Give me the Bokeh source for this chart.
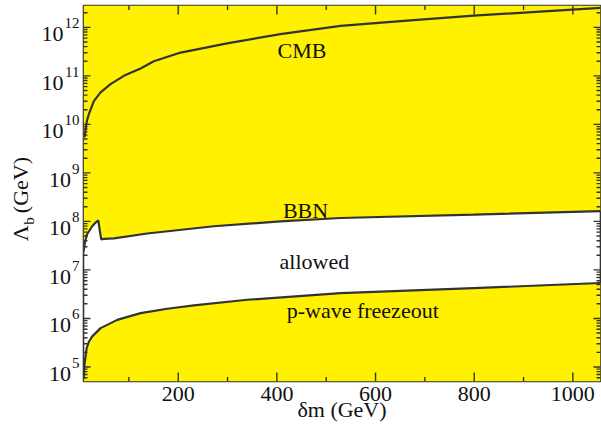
import math
from bokeh.plotting import figure
from bokeh.layouts import row
from bokeh.models import Range1d, FixedTicker, LogScale
from bokeh.core.properties import value
from bokeh.embed import file_html
from bokeh.resources import INLINE

# ---- data ----
# CMB bound: delta m (GeV), log10(Lambda_b / GeV)
cmb_x = [10.1, 14.8, 18.9, 29, 42.6, 62.8, 89.8, 123.7, 150.6, 205, 299, 407, 529, 664, 799, 1056]
cmb_logy = [9.73, 10.07, 10.21, 10.48, 10.66, 10.83, 11.0, 11.15, 11.30, 11.48, 11.67, 11.86, 12.03, 12.14, 12.24, 12.40]

# BBN bound
bbn_x = [8.4, 11, 15.6, 25.7, 33, 38, 41.2, 44, 49.3, 70, 137, 272, 407, 529, 799, 1056]
bbn_logy = [7.38, 7.58, 7.74, 7.90, 7.98, 8.02, 7.80, 7.63, 7.64, 7.65, 7.75, 7.90, 8.00, 8.07, 8.14, 8.21]

# p-wave freezeout bound
pw_x = [8.4, 10, 14.2, 18.9, 25.7, 42.6, 76.4, 123.7, 177.8, 231.7, 340, 529, 799, 1056]
pw_logy = [4.75, 5.05, 5.38, 5.52, 5.63, 5.80, 5.97, 6.11, 6.20, 6.27, 6.385, 6.52, 6.625, 6.73]

# region labels
lab_text = ["CMB", "BBN", "allowed", "p-wave freezeout"]
lab_x = [451, 458, 476, 574]
lab_logy = [11.394, 8.093, 7.05, 6.04]

# axes
x_min, x_max = 8, 1056
ylog_min, ylog_max = 4.7, 12.45
x_major = [200, 400, 600, 800, 1000]
x_minor = [100, 300, 500, 700, 900]
y_exponents = [5, 6, 7, 8, 9, 10, 11, 12]
x_title = "\u03b4m (GeV)"
y_title_parts = ["\u039b", "b", "(GeV)"]

cmb_y = [10 ** v for v in cmb_logy]
bbn_y = [10 ** v for v in bbn_logy]
pw_y = [10 ** v for v in pw_logy]
lab_y = [10 ** v for v in lab_logy]
y_min, y_max = 10 ** ylog_min, 10 ** ylog_max
y_major = [10.0 ** e for e in y_exponents]
y_minor = [m * 10.0 ** e for e in range(4, 13) for m in range(2, 10)
           if y_min < m * 10.0 ** e < y_max]
y_base_text = ["10"] * len(y_exponents)
y_exp_text = [str(e) for e in y_exponents]

YELLOW = "#fff100"
DARK = "#333333"
TXT = "#111111"
FONT = "Liberation Serif"
FS = "22px"
SHIFT_L, SHIFT_S = -6, -4    # baseline correction for 22px / 15px glyph texts

# ---- layout (pixels) ----
W, H = 601, 432
TW = 81                      # left strip: y tick labels + y title
B_LEFT, B_RIGHT = 2, 1       # frame spans x 83..600
B_TOP, B_BOT = 5, 51         # frame spans y 5..381
frame_w = W - TW - B_LEFT - B_RIGHT
frame_h = H - B_TOP - B_BOT
ppx = frame_w / (x_max - x_min)              # px per GeV
ppd = frame_h / (ylog_max - ylog_min)        # px per decade

y_range = Range1d(y_min, y_max)

# ---------- main plot ----------
p = figure(width=W - TW, height=H, x_range=Range1d(x_min, x_max), y_range=y_range,
           y_axis_type=None, output_backend="svg", toolbar_location=None,
           min_border_left=B_LEFT, min_border_right=B_RIGHT,
           min_border_top=B_TOP, min_border_bottom=B_BOT)
p.y_scale = LogScale()
p.grid.visible = False
p.outline_line_color = DARK
p.outline_line_width = 1.6
p.background_fill_color = "white"

# fills
p.varea(x=bbn_x, y1=bbn_y, y2=y_max, fill_color=YELLOW)
p.varea(x=pw_x, y1=y_min, y2=pw_y, fill_color=YELLOW)

# curves
for xs, ys in [(cmb_x, cmb_y), (bbn_x, bbn_y), (pw_x, pw_y)]:
    p.line(xs, ys, line_color=DARK, line_width=2.2)

p.text(x=lab_x, y=lab_y, text=lab_text, text_font=value(FONT), text_font_size=FS,
       text_align="center", text_baseline="alphabetic", y_offset=SHIFT_L, text_color=TXT)

# inward ticks on all four sides (tick lengths converted from pixels)
tx, ty = [], []
for xs_, L in [(x_major, 9), (x_minor, 4.5)]:
    f = 10 ** (L / ppd)
    for x in xs_:
        tx += [[x, x], [x, x]]
        ty += [[y_min, y_min * f], [y_max, y_max / f]]
for ys_, L in [(y_major, 7), (y_minor, 4)]:
    d = L / ppx
    for y in ys_:
        tx += [[x_min, x_min + d], [x_max, x_max - d]]
        ty += [[y, y], [y, y]]
p.multi_line(xs=tx, ys=ty, line_color=DARK, line_width=1.4)

xa = p.xaxis[0]
xa.ticker = FixedTicker(ticks=x_major, minor_ticks=[])
xa.axis_line_color = None
xa.major_tick_line_color = None
xa.minor_tick_line_color = None
xa.major_tick_in = 0
xa.major_tick_out = 0
xa.minor_tick_in = 0
xa.minor_tick_out = 0
xa.major_label_text_font = FONT
xa.major_label_text_font_size = FS
xa.major_label_text_color = TXT
xa.major_label_standoff = 5
xa.axis_label = x_title
xa.axis_label_text_font = FONT
xa.axis_label_text_font_size = FS
xa.axis_label_text_font_style = "normal"
xa.axis_label_text_color = TXT
xa.axis_label_standoff = -7

# ---------- left strip: y tick labels (10 + superscript) and y title ----------
# (the row aligns both frames, so the strip shares the main y range)
t = figure(width=TW, height=H, x_range=Range1d(0, TW), y_range=y_range,
           x_axis_type=None, y_axis_type=None, output_backend="svg", toolbar_location=None,
           min_border_left=0, min_border_right=0, min_border_top=B_TOP, min_border_bottom=B_BOT)
t.y_scale = LogScale()
t.grid.visible = False
t.outline_line_color = None

exp_right = 79
base_right = [exp_right - 7.5 * len(s) - 1 for s in y_exp_text]
t.text(x=exp_right, y=y_major, text=y_exp_text, text_font=value(FONT), text_font_size="15px",
       text_align="right", text_baseline="alphabetic", y_offset=SHIFT_S, text_color=TXT)
t.text(x=base_right, y=y_major, text=y_base_text, text_font=value(FONT), text_font_size=FS,
       text_align="right", text_baseline="alphabetic", y_offset=13 + SHIFT_L, text_color=TXT)

title_x = [26 + SHIFT_L, 32 + SHIFT_S, 26 + SHIFT_L]
title_y = [10 ** 7.59, 10 ** 7.93, 10 ** 8.17]
t.text(x=title_x, y=title_y, text=y_title_parts,
       text_font=value(FONT), text_font_size=[FS, "15px", FS], angle=math.pi / 2,
       text_align="left", text_baseline="alphabetic", text_color=TXT)

layout = row(t, p, spacing=0)
open("out.html", "w").write(file_html(layout, INLINE))
